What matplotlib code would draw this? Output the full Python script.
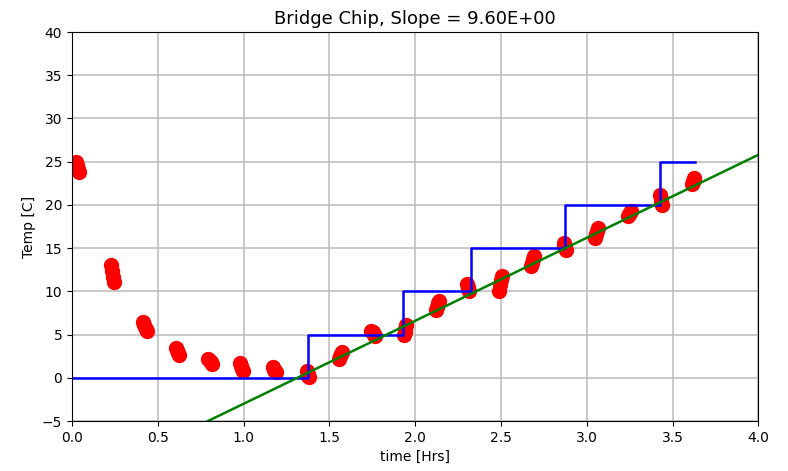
import matplotlib
matplotlib.use('Agg')
import matplotlib.pyplot as plt
import numpy as np

# measured points (time in hours, temperature in C)
time_hrs = [0.025, 0.03, 0.035, 0.04,
            0.225, 0.232, 0.239, 0.245,
            0.415, 0.422, 0.429, 0.435,
            0.605, 0.612, 0.619, 0.625,
            0.795, 0.802, 0.809, 0.815,
            0.98, 0.985, 0.99, 0.995,
            1.17, 1.177, 1.184, 1.19,
            1.37, 1.374, 1.378, 1.382,
            1.555, 1.562, 1.569, 1.575,
            1.745, 1.752, 1.759, 1.765,
            1.935, 1.939, 1.943, 1.947,
            2.12, 2.127, 2.134, 2.14,
            2.30, 2.305, 2.31, 2.315,
            2.49, 2.495, 2.50, 2.505,
            2.675, 2.682, 2.689, 2.695,
            2.865, 2.869, 2.873, 2.877,
            3.05, 3.056, 3.062, 3.067,
            3.24, 3.246, 3.252, 3.258,
            3.425, 3.43, 3.435, 3.44,
            3.615, 3.618, 3.621, 3.624]
temp_c = [25.0, 24.6, 24.2, 23.8,
          13.0, 12.4, 11.7, 11.1,
          6.5, 6.1, 5.7, 5.4,
          3.5, 3.2, 2.9, 2.6,
          2.2, 2.0, 1.8, 1.6,
          1.7, 1.4, 1.0, 0.8,
          1.2, 0.9, 0.8, 0.7,
          0.8, 0.5, 0.2, 0.1,
          2.2, 2.5, 2.8, 3.0,
          5.4, 5.3, 5.0, 4.8,
          4.9, 5.3, 5.7, 6.1,
          7.8, 8.2, 8.6, 8.9,
          10.8, 10.5, 10.3, 10.1,
          10.1, 10.7, 11.3, 11.8,
          12.9, 13.3, 13.7, 14.1,
          15.6, 15.3, 15.0, 14.8,
          16.2, 16.6, 17.0, 17.3,
          18.7, 18.9, 19.1, 19.3,
          21.1, 20.7, 20.3, 20.0,
          22.4, 22.6, 22.8, 23.1]

# setpoint steps
step_x = [0.0, 1.375, 1.375, 1.93, 1.93, 2.325, 2.325, 2.875, 2.875, 3.425, 3.425, 3.63]
step_y = [0, 0, 5, 5, 10, 10, 15, 15, 20, 20, 25, 25]

slope = 9.60
intercept = -12.6
fit_x = [0.0, 4.0]

fig = plt.figure(figsize=(7.88, 4.71), dpi=100)
ax = fig.add_axes([0.0914, 0.106, 0.871, 0.826])

ax.plot(time_hrs, temp_c, 'ro', ms=10)
ax.plot(step_x, step_y, 'b-', lw=1.8)
ax.plot(fit_x, np.polyval([slope, intercept], fit_x), 'g-', lw=1.8)

ax.set_xlim(0, 4)
ax.set_ylim(-5, 40)
ax.set_xticks(np.arange(0, 4.01, 0.5))
ax.set_yticks(np.arange(-5, 41, 5))
ax.grid(True, color='#bbbbbb', lw=1.1)
ax.set_axisbelow(True)
ax.set_xlabel('time [Hrs]')
ax.set_ylabel('Temp [C]')
ax.set_title('Bridge Chip, Slope = %.2E' % slope, fontsize=13)

fig.savefig('out.png', dpi=100)
